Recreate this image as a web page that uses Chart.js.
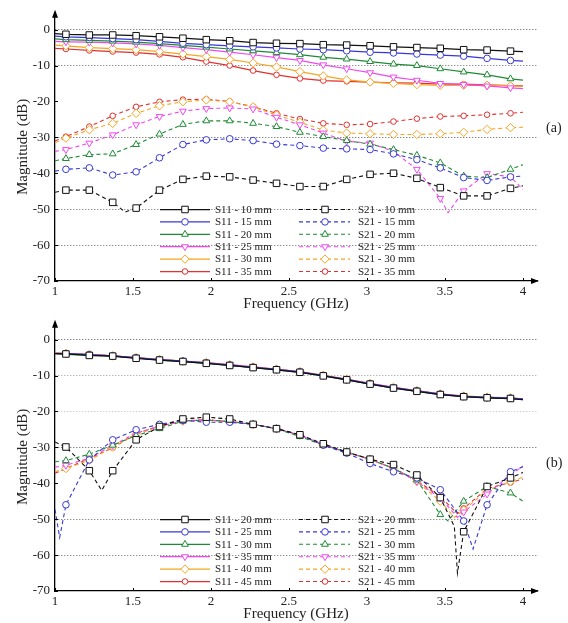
<!DOCTYPE html>
<html><head><meta charset="utf-8">
<script src="https://cdn.jsdelivr.net/npm/chart.js@4/dist/chart.umd.min.js"></script>
<style>
html,body{margin:0;padding:0;background:#fff;}
#wrap{position:relative;width:568px;height:623px;overflow:hidden;background:#fff;}
canvas{position:absolute;left:0;}
#ca{top:0;} #cb{top:310px;}
</style></head><body>
<div id="wrap"><canvas id="ca" width="568" height="313"></canvas><canvas id="cb" width="568" height="313"></canvas></div>
<script>
// ---------- tick labels ----------
const xTickValues = [1, 1.5, 2, 2.5, 3, 3.5, 4];
const xTickLabels = ['1', '1.5', '2', '2.5', '3', '3.5', '4'];
const yTickValues = [-70, -60, -50, -40, -30, -20, -10, 0];
const yTickLabels = ['-70', '-60', '-50', '-40', '-30', '-20', '-10', '0'];
const markerFreqs = [1.07, 1.22, 1.37, 1.52, 1.67, 1.82, 1.97, 2.12, 2.27, 2.42, 2.57, 2.72, 2.87, 3.02, 3.17, 3.32, 3.47, 3.62, 3.77, 3.92];

// ---------- panel (a) ----------
const freqA = [1.00, 1.07, 1.22, 1.37, 1.45, 1.52, 1.67, 1.82, 1.97, 2.12, 2.27, 2.42, 2.57, 2.72, 2.87, 3.02, 3.17, 3.32, 3.47, 3.52, 3.62, 3.77, 3.92, 4.00];
const s11A_10 = [-1.1, -1.3, -1.5, -1.5, null, -1.7, -2.0, -2.4, -2.8, -3.1, -3.6, -3.8, -3.9, -4.2, -4.3, -4.5, -4.8, -5.0, -5.2, null, -5.6, -5.7, -6.0, -6.1];
const s11A_15 = [-1.8, -2.0, -2.2, -2.5, null, -2.8, -3.3, -3.8, -4.2, -4.5, -4.8, -5.1, -5.4, -5.6, -5.9, -6.3, -6.5, -6.8, -7.1, null, -7.4, -8.0, -8.6, -8.8];
const s11A_20 = [-2.6, -2.8, -3.0, -3.2, null, -3.5, -3.9, -4.4, -4.9, -5.4, -5.9, -6.4, -7.0, -7.7, -8.2, -8.9, -9.6, -10.0, -10.9, null, -11.8, -12.6, -13.7, -14.1];
const s11A_25 = [-3.3, -3.4, -3.5, -3.7, null, -4.0, -4.4, -5.0, -5.6, -6.3, -7.0, -7.8, -8.6, -9.8, -10.9, -12.0, -13.2, -14.1, -15.0, null, -15.3, -15.7, -16.2, -16.4];
const s11A_30 = [-4.3, -4.5, -5.0, -5.3, null, -5.6, -6.1, -6.8, -7.5, -8.3, -9.3, -10.4, -11.7, -12.9, -14.0, -14.6, -15.0, -15.3, -15.5, null, -15.5, -15.5, -15.7, -15.8];
const s11A_35 = [-5.2, -5.4, -5.8, -6.1, null, -6.4, -6.9, -7.7, -8.9, -10.0, -11.4, -12.6, -13.6, -14.2, -14.4, -14.6, -14.8, -14.9, -15.2, null, -15.2, -15.4, -15.6, -15.7];
const s21A_10 = [-45.3, -44.7, -44.7, -48.1, -50.8, -49.7, -44.7, -41.7, -40.8, -41.0, -41.9, -42.8, -43.7, -43.7, -41.7, -40.3, -40.0, -41.4, -44.0, null, -46.3, -46.3, -44.2, -43.5];
const s21A_15 = [-39.4, -38.9, -38.5, -40.5, null, -39.6, -35.7, -32.0, -30.7, -30.4, -30.9, -31.9, -32.3, -33.0, -33.2, -33.4, -34.6, -36.2, -38.5, null, -41.2, -42.0, -41.0, -40.8];
const s21A_20 = [-36.5, -35.9, -34.8, -34.6, null, -32.0, -29.1, -26.4, -25.4, -25.4, -26.1, -27.0, -28.6, -29.8, -30.9, -31.9, -33.4, -35.0, -37.1, null, -40.8, -41.2, -38.9, -37.6];
const s21A_25 = [-33.9, -33.4, -31.6, -29.3, null, -26.5, -24.2, -22.7, -22.0, -21.8, -22.1, -24.4, -26.5, -28.8, -31.1, -31.6, -33.9, -38.9, -47.0, -51.0, -44.9, -40.1, -41.0, -44.5];
const s21A_30 = [-31.5, -30.2, -27.9, -26.1, null, -23.3, -21.2, -20.1, -19.6, -20.1, -21.5, -23.8, -25.8, -28.0, -28.8, -29.0, -29.2, -29.2, -29.0, null, -28.6, -27.8, -27.3, -27.2];
const s21A_35 = [-31.0, -29.8, -27.0, -24.0, null, -21.5, -20.1, -19.5, -19.4, -20.0, -21.5, -23.3, -24.9, -26.1, -26.5, -26.3, -25.6, -24.8, -24.2, null, -24.0, -23.7, -23.3, -23.0];
const labelsA = ['S11 - 10 mm', 'S11 - 15 mm', 'S11 - 20 mm', 'S11 - 25 mm', 'S11 - 30 mm', 'S11 - 35 mm',
                 'S21 - 10 mm', 'S21 - 15 mm', 'S21 - 20 mm', 'S21 - 25 mm', 'S21 - 30 mm', 'S21 - 35 mm'];

// ---------- panel (b) ----------
const freqB = [1.00, 1.03, 1.07, 1.22, 1.30, 1.37, 1.52, 1.67, 1.82, 1.97, 2.12, 2.27, 2.42, 2.57, 2.72, 2.87, 3.02, 3.17, 3.32, 3.47, 3.52, 3.56, 3.58, 3.62, 3.68, 3.77, 3.92, 4.00];
const s11B_20 = [-3.9, null, -4.0, -4.4, null, -4.6, -5.2, -5.7, -6.1, -6.6, -7.2, -7.8, -8.4, -9.1, -10.1, -11.2, -12.4, -13.5, -14.4, -15.3, null, null, null, -15.9, null, -16.2, -16.4, -16.7];
const s11B_25 = [-3.8, null, -3.9, -4.2, null, -4.5, -5.1, -5.6, -6.0, -6.5, -7.1, -7.7, -8.3, -9.0, -10.0, -11.1, -12.3, -13.4, -14.3, -15.2, null, null, null, -15.8, null, -16.1, -16.3, -16.6];
const s11B_30 = [-3.9, null, -4.1, -4.4, null, -4.6, -5.1, -5.7, -6.1, -6.6, -7.2, -7.8, -8.4, -9.1, -10.1, -11.2, -12.4, -13.5, -14.4, -15.3, null, null, null, -15.9, null, -16.2, -16.4, -16.7];
const s11B_35 = [-3.8, null, -3.9, -4.2, null, -4.5, -5.0, -5.6, -6.0, -6.5, -7.0, -7.6, -8.3, -9.0, -10.0, -11.1, -12.2, -13.3, -14.3, -15.1, null, null, null, -15.8, null, -16.1, -16.3, -16.5];
const s11B_40 = [-3.7, null, -3.8, -4.1, null, -4.5, -5.0, -5.5, -6.0, -6.4, -7.0, -7.6, -8.2, -8.9, -9.9, -11.0, -12.2, -13.3, -14.2, -15.1, null, null, null, -15.7, null, -16.0, -16.2, -16.5];
const s11B_45 = [-3.8, null, -3.9, -4.2, null, -4.5, -5.1, -5.6, -6.0, -6.5, -7.1, -7.7, -8.3, -9.0, -10.0, -11.1, -12.3, -13.4, -14.3, -15.2, null, null, null, -15.8, null, -16.1, -16.3, -16.6];
const s21B_20 = [-28.5, null, -29.9, -36.5, -42.0, -36.5, -27.9, -24.2, -22.1, -21.6, -22.1, -23.6, -24.8, -26.5, -29.0, -31.3, -33.3, -34.8, -37.7, -44.0, null, -52.0, -65.0, -53.5, null, -40.9, -38.5, -37.0];
const s21B_25 = [-47.3, -55.1, -46.0, -33.5, null, -27.9, -25.1, -23.6, -22.5, -23.0, -23.0, -23.6, -24.8, -26.5, -29.4, -31.6, -34.5, -36.8, -38.5, -41.8, null, null, null, -50.5, -58.3, -46.0, -36.8, -35.4];
const s21B_30 = [-34.0, null, -33.7, -31.9, null, -29.4, -26.7, -24.8, -22.7, -22.4, -22.8, -23.6, -24.8, -27.0, -29.4, -31.3, -33.3, -35.9, -39.1, -48.7, -50.5, null, null, -45.0, null, -40.9, -42.7, -45.0];
const s21B_35 = [-35.5, null, -35.0, -33.0, null, -29.5, -26.0, -24.2, -22.6, -22.4, -22.8, -23.6, -24.8, -26.6, -29.2, -31.4, -33.3, -35.9, -39.5, -44.1, null, null, -49.5, -48.0, null, -43.0, -37.7, -35.2];
const s21B_40 = [-36.8, null, -35.9, -33.6, null, -29.9, -26.4, -24.2, -22.7, -22.4, -22.9, -23.6, -24.8, -26.6, -29.3, -31.4, -33.4, -35.9, -39.5, -45.0, null, -49.5, null, -47.5, null, -42.0, -39.5, -38.3];
const s21B_45 = [-37.2, null, -35.9, -33.1, null, -30.1, -26.2, -24.0, -22.6, -22.3, -22.8, -23.6, -24.8, -26.6, -29.2, -31.3, -33.3, -35.8, -39.3, -43.7, null, null, -48.5, -47.0, null, -41.5, -39.8, -38.8];
const labelsB = ['S11 - 20 mm', 'S11 - 25 mm', 'S11 - 30 mm', 'S11 - 35 mm', 'S11 - 40 mm', 'S11 - 45 mm',
                 'S21 - 20 mm', 'S21 - 25 mm', 'S21 - 30 mm', 'S21 - 35 mm', 'S21 - 40 mm', 'S21 - 45 mm'];

// ---------- styles ----------
const FONT = "'Liberation Serif', 'Times New Roman', serif";
const colors = ['#111111', '#3838d8', '#1f8a35', '#f048f0', '#f5a623', '#e23030'];
const styles = ['rect', 'circle', 'triangle', 'triangle', 'rectRot', 'circle'];
const rots = [0, 0, 0, 180, 0, 0];
const radii = [4.6, 3.3, 3.9, 3.9, 4.2, 2.8];

function makeDs(freqs, values, idx, dashed, label) {
  return {
    label: label,
    data: freqs.map((f, i) => ({ x: f, y: values[i] })),
    borderColor: colors[idx],
    backgroundColor: '#ffffff',
    borderWidth: dashed ? 1.1 : 1.25,
    borderDash: dashed ? [4, 3] : [],
    pointStyle: styles[idx],
    pointRotation: rots[idx],
    pointRadius: (c) => markerFreqs.includes(freqs[c.dataIndex]) ? radii[idx] : 0,
    pointBorderWidth: 1,
    pointBackgroundColor: '#ffffff',
    pointBorderColor: colors[idx],
    tension: 0,
    spanGaps: true,
    fill: false
  };
}

function drawMarker(ctx, style, rot, r, x, y) {
  ctx.beginPath();
  let rad = rot * Math.PI / 180;
  if (style === 'circle') {
    ctx.arc(x, y, r, 0, Math.PI * 2);
  } else if (style === 'rect') {
    const s = Math.SQRT1_2 * r;
    ctx.rect(x - s, y - s, 2 * s, 2 * s);
  } else if (style === 'triangle') {
    for (let k = 0; k < 3; k++) {
      const px = x + Math.sin(rad) * r, py = y - Math.cos(rad) * r;
      if (k === 0) ctx.moveTo(px, py); else ctx.lineTo(px, py);
      rad += 2 * Math.PI / 3;
    }
    ctx.closePath();
  } else if (style === 'rectRot') {
    ctx.moveTo(x - r, y); ctx.lineTo(x, y - r); ctx.lineTo(x + r, y); ctx.lineTo(x, y + r);
    ctx.closePath();
  }
  ctx.fill();
  ctx.stroke();
}

const legendPlugin = {
  id: 'twoColLegend',
  afterDatasetsDraw(chart, args, opts) {
    const ctx = chart.ctx;
    const ds = chart.data.datasets;
    ctx.save();
    for (let i = 0; i < ds.length; i++) {
      const col = opts.cols[Math.floor(i / 6)];
      const row = i % 6;
      const y = opts.y0 + row * opts.dy;
      const idx = i % 6;
      const d = ds[i];
      ctx.strokeStyle = d.borderColor;
      ctx.lineWidth = d.borderWidth;
      ctx.setLineDash(d.borderDash);
      ctx.beginPath(); ctx.moveTo(col.x1, y); ctx.lineTo(col.x2, y); ctx.stroke();
      ctx.setLineDash([]);
      ctx.lineWidth = 1;
      ctx.fillStyle = '#ffffff';
      drawMarker(ctx, styles[idx], rots[idx], radii[idx], col.xm, y);
      ctx.fillStyle = '#222222';
      ctx.font = '11px ' + FONT;
      ctx.textBaseline = 'middle';
      ctx.textAlign = 'left';
      ctx.fillText(d.label, col.xt, y + 0.5);
    }
    ctx.restore();
  }
};

const decorPlugin = {
  id: 'decor',
  afterDraw(chart, args, opts) {
    const ctx = chart.ctx;
    const a = chart.chartArea;
    const xs = chart.scales.x, ys = chart.scales.y;
    ctx.save();
    ctx.fillStyle = '#000';
    ctx.strokeStyle = '#000';
    ctx.beginPath();
    ctx.moveTo(a.left, a.top - 3); ctx.lineTo(a.left - 3, a.top + 5); ctx.lineTo(a.left + 3, a.top + 5);
    ctx.closePath(); ctx.fill();
    ctx.beginPath();
    ctx.moveTo(a.right + 2, a.bottom); ctx.lineTo(a.right - 6, a.bottom - 3); ctx.lineTo(a.right - 6, a.bottom + 3);
    ctx.closePath(); ctx.fill();
    ctx.lineWidth = 1;
    ctx.beginPath();
    xTickValues.forEach(v => { const px = Math.round(xs.getPixelForValue(v)) + 0.5; ctx.moveTo(px, a.bottom); ctx.lineTo(px, a.bottom - 3); });
    yTickValues.forEach(v => { const py = Math.round(ys.getPixelForValue(v)) + 0.5; ctx.moveTo(a.left, py); ctx.lineTo(a.left + 3, py); });
    ctx.stroke();
    ctx.font = '14px ' + FONT;
    ctx.fillStyle = '#222';
    ctx.textAlign = 'left';
    ctx.textBaseline = 'middle';
    ctx.fillText(opts.panel, 546, opts.panelY);
    ctx.restore();
  }
};

function buildChart(canvasId, freqs, s11, s21, labels, panel, panelY, gridMap) {
  const datasets = [];
  s11.forEach((v, i) => datasets.push(makeDs(freqs, v, i, false, labels[i])));
  s21.forEach((v, i) => datasets.push(makeDs(freqs, v, i, true, labels[6 + i])));
  return new Chart(document.getElementById(canvasId), {
    type: 'line',
    data: { datasets: datasets },
    plugins: [legendPlugin, decorPlugin],
    options: {
      responsive: false,
      animation: false,
      devicePixelRatio: 1,
      layout: { padding: { top: 10, right: 31, bottom: 0, left: 0 } },
      plugins: {
        legend: { display: false },
        tooltip: { enabled: false },
        twoColLegend: {
          cols: [{ x1: 160, x2: 210, xm: 185, xt: 215 }, { x1: 299, x2: 350, xm: 325, xt: 358 }],
          y0: 209.5, dy: 12.4
        },
        decor: { panel: panel, panelY: panelY }
      },
      scales: {
        x: {
          type: 'linear', min: 1, max: 4.09,
          afterBuildTicks: (s) => { s.ticks = xTickValues.map(v => ({ value: v })); },
          afterFit: (s) => { s.height = 32; },
          ticks: { callback: (v, i) => xTickLabels[i], autoSkip: false, maxRotation: 0, padding: 3,
                   font: { family: FONT, size: 13 }, color: '#222' },
          grid: { display: false, drawTicks: false },
          border: { display: true, color: '#000', width: 1.3 },
          title: { display: true, text: 'Frequency (GHz)', font: { family: FONT, size: 15 }, color: '#222',
                   padding: { top: 0, bottom: 0 } }
        },
        y: {
          type: 'linear', min: -70, max: 4.68,
          afterBuildTicks: (s) => { s.ticks = yTickValues.map(v => ({ value: v })); },
          afterFit: (s) => { s.width = 55; },
          ticks: { callback: (v, i) => yTickLabels[i], padding: 5, font: { family: FONT, size: 13 }, color: '#222' },
          grid: { drawTicks: false, lineWidth: 1,
                  color: (c) => { const v = c.tick ? c.tick.value : null; return (v !== null && gridMap[v]) ? gridMap[v] : 'rgba(0,0,0,0)'; } },
          border: { display: true, color: '#000', width: 1.3, dash: [1, 2] },
          title: { display: true, text: 'Magnitude (dB)', font: { family: FONT, size: 15 }, color: '#222',
                   padding: { top: 14, bottom: 0 } }
        }
      }
    }
  });
}

buildChart('ca', freqA,
  [s11A_10, s11A_15, s11A_20, s11A_25, s11A_30, s11A_35],
  [s21A_10, s21A_15, s21A_20, s21A_25, s21A_30, s21A_35],
  labelsA, '(a)', 128, { '0': '#555', '-10': '#666', '-30': '#555', '-50': '#666', '-60': '#666' });

buildChart('cb', freqB,
  [s11B_20, s11B_25, s11B_30, s11B_35, s11B_40, s11B_45],
  [s21B_20, s21B_25, s21B_30, s21B_35, s21B_40, s21B_45],
  labelsB, '(b)', 153, { '0': '#555', '-10': '#999', '-20': '#bbb', '-30': '#555', '-50': '#666', '-60': '#666' });
</script>
</body></html>
